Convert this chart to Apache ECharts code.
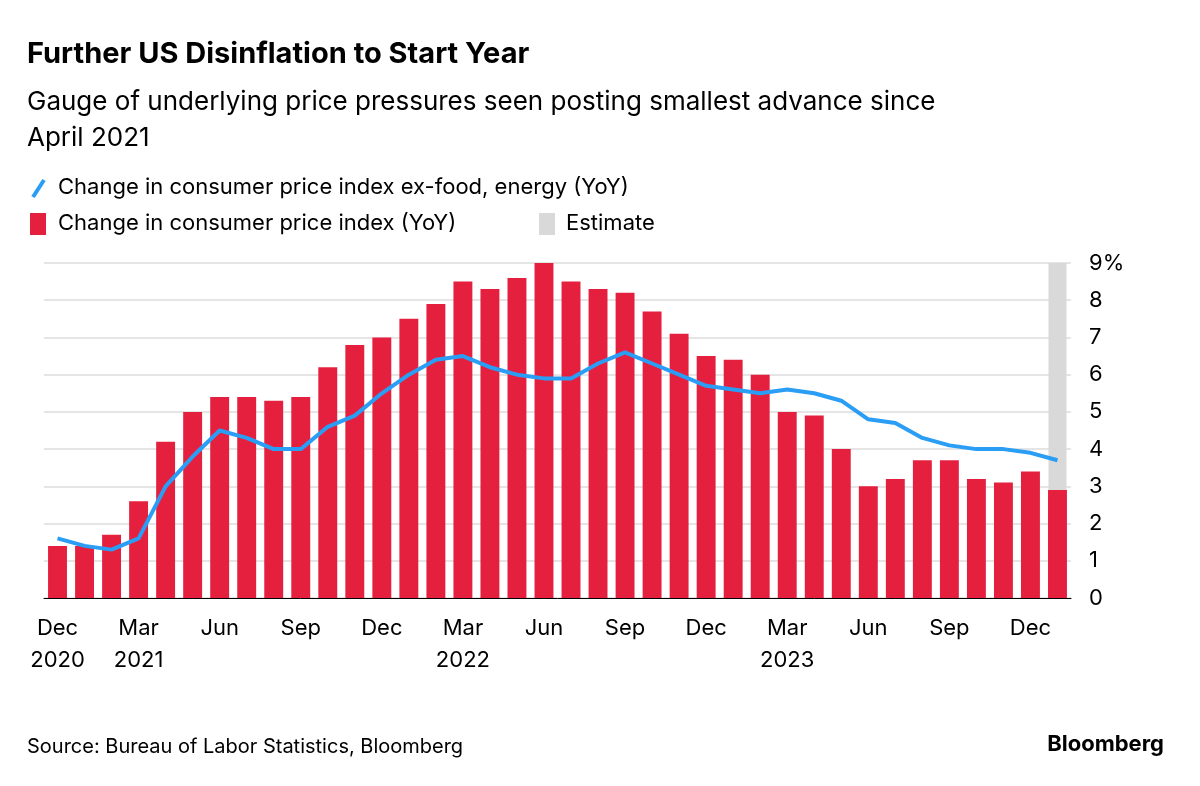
<!DOCTYPE html>
<html><head><meta charset="utf-8">
<script src="https://cdn.jsdelivr.net/npm/echarts@6/dist/echarts.min.js"></script>
<style>html,body{margin:0;background:#fff}#c{width:1200px;height:786px}</style>
</head><body><div id="c"></div>
<script>
const months = ['Dec 2020','Jan 2021','Feb 2021','Mar 2021','Apr 2021','May 2021','Jun 2021','Jul 2021','Aug 2021','Sep 2021','Oct 2021','Nov 2021','Dec 2021','Jan 2022','Feb 2022','Mar 2022','Apr 2022','May 2022','Jun 2022','Jul 2022','Aug 2022','Sep 2022','Oct 2022','Nov 2022','Dec 2022','Jan 2023','Feb 2023','Mar 2023','Apr 2023','May 2023','Jun 2023','Jul 2023','Aug 2023','Sep 2023','Oct 2023','Nov 2023','Dec 2023','Jan 2024'];
const cpi = [1.4,1.4,1.7,2.6,4.2,5.0,5.4,5.4,5.3,5.4,6.2,6.8,7.0,7.5,7.9,8.5,8.3,8.6,9.1,8.5,8.3,8.2,7.7,7.1,6.5,6.4,6.0,5.0,4.9,4.0,3.0,3.2,3.7,3.7,3.2,3.1,3.4,2.9];
const core = [1.6,1.4,1.3,1.6,3.0,3.8,4.5,4.3,4.0,4.0,4.6,4.9,5.5,6.0,6.4,6.5,6.2,6.0,5.9,5.9,6.3,6.6,6.3,6.0,5.7,5.6,5.5,5.6,5.5,5.3,4.8,4.7,4.3,4.1,4.0,4.0,3.9,3.7];
const estimate = months.map((m,i)=> i===months.length-1 ? 9 : null);
const yTicks = [0,1,2,3,4,5,6,7,8,9];

const show = i => i % 3 === 0;
const fmt = v => { const [m,y] = v.split(' '); return (m==='Dec' && y==='2020') || m==='Mar' ? m+'\n'+y : m; };
const chart = echarts.init(document.getElementById('c'));
const F = 'Inter, "Noto Sans", sans-serif';
chart.setOption({
  animation:false,
  textStyle:{fontFamily:F},
  graphic:[
    {type:'text',left:27,top:40,style:{text:'Further US Disinflation to Start Year',font:'bold 29px '+F,fill:'#000'}},
    {type:'text',left:27,top:84,style:{text:'Gauge of underlying price pressures seen posting smallest advance since\nApril 2021',font:'26px '+F,fill:'#000',lineHeight:36}},
    {type:'line',shape:{x1:33,y1:197,x2:44,y2:180},style:{stroke:'#2a9df4',lineWidth:4}},
    {type:'text',left:58,top:176,style:{text:'Change in consumer price index ex-food, energy (YoY)',font:'22px '+F,fill:'#000'}},
    {type:'rect',shape:{x:30,y:213,width:16,height:22},style:{fill:'#e5203f'}},
    {type:'text',left:58,top:212,style:{text:'Change in consumer price index (YoY)',font:'22px '+F,fill:'#000'}},
    {type:'rect',shape:{x:539,y:213,width:16,height:22},style:{fill:'#d9d9d9'}},
    {type:'text',left:566,top:212,style:{text:'Estimate',font:'22px '+F,fill:'#000'}},
    {type:'text',left:27,top:737,style:{text:'Source: Bureau of Labor Statistics, Bloomberg',font:'20px '+F,fill:'#000'}},
    {type:'text',right:36,top:733,style:{text:'Bloomberg',font:'bold 22px '+F,fill:'#000'}}
  ],
  grid:{left:44,right:129,top:263,bottom:188},
  xAxis:[
    {type:'category',data:months,boundaryGap:true,
     axisLine:{lineStyle:{color:'#000'}},
     axisTick:{alignWithLabel:true,interval:(i)=>show(i),length:6,lineStyle:{color:'#000'}},
     axisLabel:{interval:(i)=>show(i),formatter:fmt,color:'#000',fontSize:22,lineHeight:32,margin:14,fontFamily:F}},
    {type:'category',data:months,show:false}
  ],
  yAxis:{type:'value',position:'right',min:0,max:9,interval:1,
    axisLine:{show:false},axisTick:{show:false},
    splitLine:{lineStyle:{color:'#dcdcdc',width:1.5}},
    axisLabel:{color:'#000',fontSize:22,margin:18,fontFamily:F,formatter:v=>v===9?'9%':String(v)}},
  series:[
    {type:'bar',xAxisIndex:1,data:estimate,barWidth:18,itemStyle:{color:'#d9d9d9'},z:1},
    {type:'bar',data:cpi,barWidth:'70%',itemStyle:{color:'#e5203f'},z:2},
    {type:'line',data:core,symbol:'none',lineStyle:{color:'#2a9df4',width:4},z:3}
  ]
});
</script></body></html>
